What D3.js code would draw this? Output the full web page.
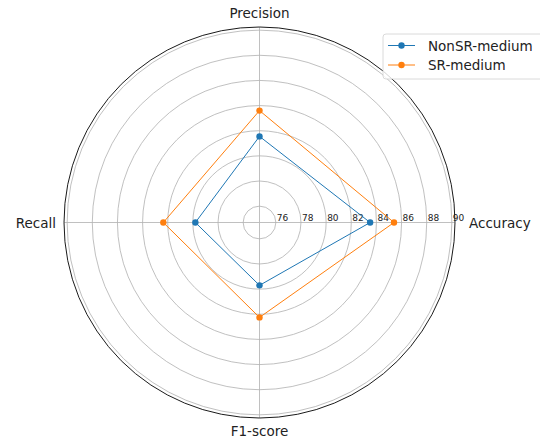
<!DOCTYPE html>
<html>
<head>
<meta charset="utf-8">
<script src="https://cdn.jsdelivr.net/npm/d3@7"></script>
<style>
  body { margin: 0; background: #fff; }
  text { font-family: "DejaVu Sans", sans-serif; }
</style>
</head>
<body>
<script>
// chart data
var metrics = ["Accuracy", "Precision", "Recall", "F1-score"];
var nonSR = [83.5, 81.55, 79.8, 79.7];
var srMedium = [85.4, 83.6, 82.35, 82.25];
var seriesNames = ["NonSR-medium", "SR-medium"];
var rTicks = [76, 78, 80, 82, 84, 86, 88, 90];

var width = 540, height = 441;
var cx = 259.5, cy = 222.5, R = 195.5;
var colors = ["#1f77b4", "#ff7f0e"];

var svg = d3.select("body").append("svg")
    .attr("width", width)
    .attr("height", height);

var r = d3.scaleLinear().domain([74.7, 90.25]).range([0, R]);
var angle = d3.scaleBand().domain(metrics).range([0, 2 * Math.PI]);

var g = svg.append("g")
    .attr("transform", "translate(" + cx + "," + cy + ")");

// grid circles
g.selectAll(".grid")
    .data(rTicks)
    .enter().append("circle")
    .attr("r", function(d) { return r(d); })
    .style("fill", "none")
    .style("stroke", "#b0b0b0")
    .style("stroke-width", 0.8);

// spokes
g.selectAll(".spoke")
    .data(metrics)
    .enter().append("line")
    .attr("x1", 0).attr("y1", 0)
    .attr("x2", function(d) { return R * Math.cos(angle(d)); })
    .attr("y2", function(d) { return -R * Math.sin(angle(d)); })
    .style("stroke", "#b0b0b0")
    .style("stroke-width", 0.8);

// outer spine
g.append("circle")
    .attr("r", R)
    .style("fill", "none")
    .style("stroke", "#000")
    .style("stroke-width", 0.9);

// radial tick labels
g.selectAll(".rlabel")
    .data(rTicks)
    .enter().append("text")
    .attr("x", function(d) { return r(d) + 1; })
    .attr("y", -1.5)
    .style("font-size", "9px")
    .style("fill", "#222")
    .text(function(d) { return d; });

// axis labels
var labelPos = {
    "Accuracy": { x: R + 14, y: 5, anchor: "start" },
    "Precision": { x: 0, y: -R - 9, anchor: "middle" },
    "Recall": { x: -R - 8, y: 5, anchor: "end" },
    "F1-score": { x: 0, y: R + 18, anchor: "middle" }
};
g.selectAll(".alabel")
    .data(metrics)
    .enter().append("text")
    .attr("x", function(d) { return labelPos[d].x; })
    .attr("y", function(d) { return labelPos[d].y; })
    .attr("text-anchor", function(d) { return labelPos[d].anchor; })
    .style("font-size", "13.5px")
    .style("fill", "#222")
    .text(function(d) { return d; });

var line = d3.lineRadial()
    .angle(function(d, i) { return Math.PI / 2 - angle(metrics[i]); })
    .radius(function(d) { return r(d); })
    .curve(d3.curveLinearClosed);

var allSeries = [nonSR, srMedium];

allSeries.forEach(function(values, si) {
    g.append("path")
        .attr("d", line(values))
        .style("fill", "none")
        .style("stroke", colors[si])
        .style("stroke-width", 1);

    g.selectAll(".pt" + si)
        .data(values)
        .enter().append("circle")
        .attr("cx", function(d, i) { return r(d) * Math.cos(angle(metrics[i])); })
        .attr("cy", function(d, i) { return -r(d) * Math.sin(angle(metrics[i])); })
        .attr("r", 3.2)
        .style("fill", colors[si]);
});

// legend
var legend = svg.append("g").attr("transform", "translate(383,34)");
legend.append("rect")
    .attr("x", 0).attr("y", 0)
    .attr("width", 162).attr("height", 45)
    .attr("rx", 3)
    .style("fill", "#fff")
    .style("fill-opacity", 0.8)
    .style("stroke", "#d0d0d0")
    .style("stroke-width", 0.8);

seriesNames.forEach(function(name, i) {
    var y = 11.5 + i * 19.5;
    legend.append("line")
        .attr("x1", 5).attr("x2", 32)
        .attr("y1", y).attr("y2", y)
        .style("stroke", colors[i])
        .style("stroke-width", 1);
    legend.append("circle")
        .attr("cx", 18.5).attr("cy", y)
        .attr("r", 3.2)
        .style("fill", colors[i]);
    legend.append("text")
        .attr("x", 45).attr("y", y + 5)
        .style("font-size", "13.5px")
        .style("fill", "#222")
        .text(name);
});
</script>
</body>
</html>
